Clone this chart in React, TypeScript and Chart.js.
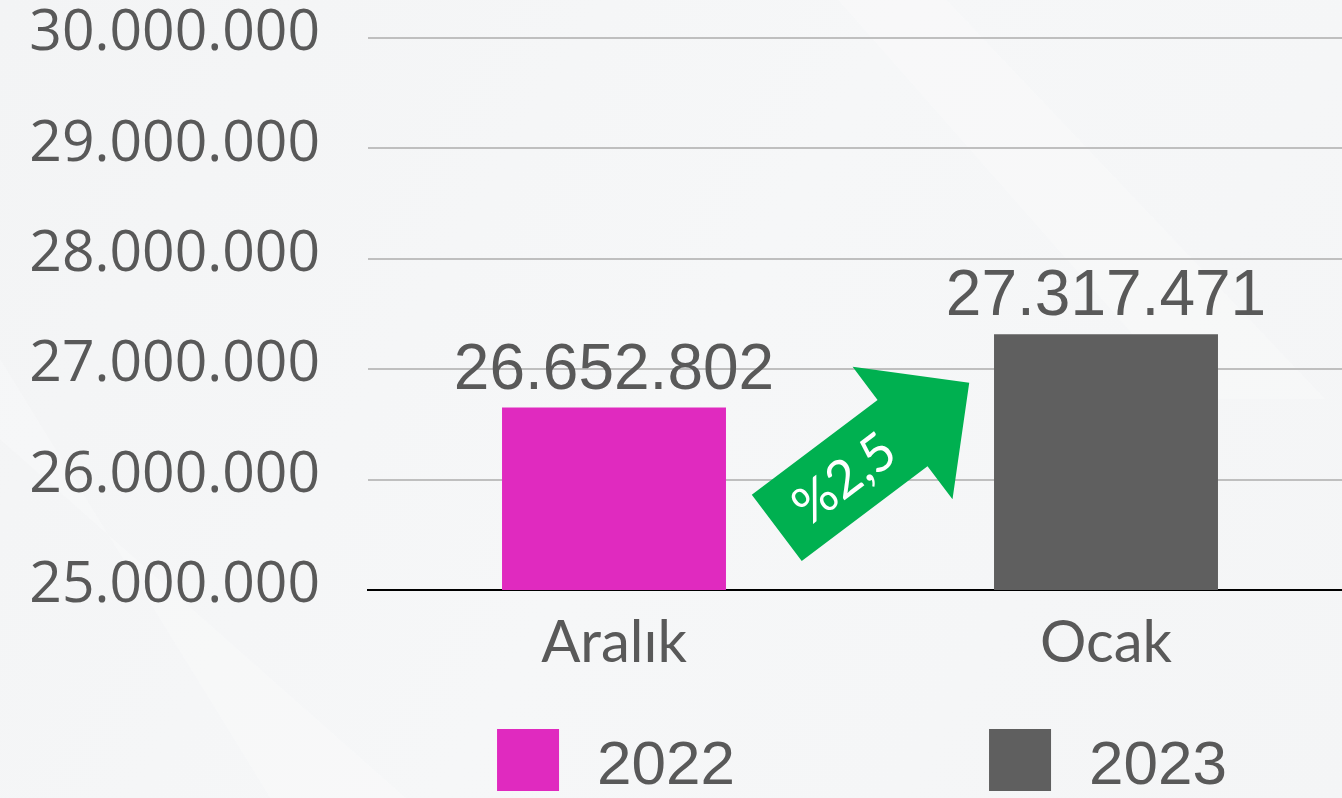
import React, { useEffect, useRef } from "react";
import { Chart, registerables } from "chart.js";

Chart.register(...registerables);

const categories = ["Aralık", "Ocak"];
const seriesLabels = ["2022", "2023"];
const values2022: (number | null)[] = [26652802, null];
const values2023: (number | null)[] = [null, 27317471];
const seriesColors = ["#E02ABF", "#5F5F5F"];
const yTickValues = [25000000, 26000000, 27000000, 28000000, 29000000, 30000000];
const changeLabel = "%2,5";

const fmt = (v: number) =>
  Math.round(v)
    .toString()
    .replace(/\B(?=(\d{3})+(?!\d))/g, ".");

const TEXT = "#595959";

const backgroundPlugin = {
  id: "bg",
  beforeDraw(chart: any) {
    const { ctx, width, height } = chart;
    ctx.save();
    const g = ctx.createLinearGradient(0, 0, width, height);
    g.addColorStop(0, "#F3F4F5");
    g.addColorStop(0.5, "#F6F7F8");
    g.addColorStop(1, "#F4F5F6");
    ctx.fillStyle = g;
    ctx.fillRect(0, 0, width, height);
    ctx.globalAlpha = 0.22;
    ctx.fillStyle = "#FFFFFF";
    ctx.beginPath();
    ctx.moveTo(width * 0.62, 0);
    ctx.lineTo(width * 0.7, 0);
    ctx.lineTo(width * 0.98, height * 0.5);
    ctx.lineTo(width * 0.88, height * 0.5);
    ctx.closePath();
    ctx.fill();
    ctx.beginPath();
    ctx.moveTo(0, height * 0.45);
    ctx.lineTo(0, height * 0.55);
    ctx.lineTo(width * 0.3, height);
    ctx.lineTo(width * 0.2, height);
    ctx.closePath();
    ctx.fill();
    ctx.restore();
  },
};

const dataLabelPlugin = {
  id: "dataLabels",
  afterDatasetsDraw(chart: any) {
    const { ctx } = chart;
    ctx.save();
    ctx.font = "64px 'Liberation Sans', Arial, sans-serif";
    ctx.fillStyle = TEXT;
    ctx.textAlign = "center";
    ctx.textBaseline = "alphabetic";
    chart.data.datasets.forEach((ds: any, di: number) => {
      const meta = chart.getDatasetMeta(di);
      meta.data.forEach((el: any, i: number) => {
        const v = ds.data[i];
        if (v == null) return;
        ctx.fillText(fmt(v), el.x, el.y - 19);
      });
    });
    ctx.restore();
  },
};

const arrowPlugin = {
  id: "changeArrow",
  afterDatasetsDraw(chart: any) {
    const { ctx } = chart;
    const xs = chart.scales.x;
    const ys = chart.scales.y;
    const midX = (xs.getPixelForValue(0) + xs.getPixelForValue(1)) / 2;
    const cx = midX + 13;
    const cy = ys.getPixelForValue(26220000);
    const L = 241;
    const shaftHalf = 41.5;
    const headHalf = 83;
    const headLen = 83.5;
    const half = L / 2;
    const shaftEnd = half - headLen;
    const angle = (-37 * Math.PI) / 180;
    ctx.save();
    ctx.translate(cx, cy);
    ctx.rotate(angle);
    ctx.fillStyle = "#00B050";
    ctx.beginPath();
    ctx.moveTo(-half, -shaftHalf);
    ctx.lineTo(shaftEnd, -shaftHalf);
    ctx.lineTo(shaftEnd, -headHalf);
    ctx.lineTo(half, 0);
    ctx.lineTo(shaftEnd, headHalf);
    ctx.lineTo(shaftEnd, shaftHalf);
    ctx.lineTo(-half, shaftHalf);
    ctx.closePath();
    ctx.fill();
    ctx.fillStyle = "#FFFFFF";
    ctx.font = "52px Lato, 'Open Sans', sans-serif";
    ctx.textAlign = "center";
    ctx.textBaseline = "middle";
    ctx.fillText(changeLabel, -37, 2);
    ctx.restore();
  },
};

const legendPlugin = {
  id: "customLegend",
  afterDraw(chart: any) {
    const { ctx, height } = chart;
    const xs = chart.scales.x;
    ctx.save();
    ctx.font = "62px 'Liberation Sans', Arial, sans-serif";
    ctx.textBaseline = "alphabetic";
    ctx.textAlign = "left";
    const box = 62;
    const gap = 38;
    seriesLabels.forEach((lab, i) => {
      const tw = ctx.measureText(lab).width;
      const w = box + gap + tw;
      const cx = xs.getPixelForValue(i) + 2;
      const x0 = cx - w / 2;
      ctx.fillStyle = seriesColors[i];
      ctx.fillRect(x0, height - 69, box, box);
      ctx.fillStyle = TEXT;
      ctx.fillText(lab, x0 + box + gap, height - 14);
    });
    ctx.restore();
  },
};

export default function App() {
  const ref = useRef<HTMLCanvasElement | null>(null);
  useEffect(() => {
    document.body.style.margin = "0";
    document.body.style.overflow = "hidden";
    if (!ref.current) return;
    const chart = new Chart(ref.current, {
      type: "bar",
      data: {
        labels: categories,
        datasets: [
          {
            label: seriesLabels[0],
            data: values2022,
            backgroundColor: seriesColors[0],
            skipNull: true,
          } as any,
          {
            label: seriesLabels[1],
            data: values2023,
            backgroundColor: seriesColors[1],
            skipNull: true,
          } as any,
        ],
      },
      options: {
        animation: false,
        responsive: false,
        maintainAspectRatio: false,
        datasets: {
          bar: {
            categoryPercentage: 0.8,
            barPercentage: 0.569,
          },
        },
        layout: { padding: { top: 38, left: 0, right: 0, bottom: 0 } },
        plugins: {
          legend: { display: false },
          tooltip: { enabled: false },
          title: { display: false },
        },
        scales: {
          x: {
            grid: { display: false, drawTicks: false },
            border: { display: true, color: "#000000", width: 2 },
            ticks: {
              color: TEXT,
              font: { family: "Lato, 'Open Sans', sans-serif", size: 58 },
              padding: 18,
            },
            afterFit(scale: any) {
              scale.height = 208;
              scale.paddingLeft = 0;
              scale.paddingRight = 0;
            },
          },
          y: {
            min: yTickValues[0],
            max: yTickValues[yTickValues.length - 1],
            grid: {
              drawTicks: false,
              color: (c: any) =>
                c.tick && c.tick.value === yTickValues[0] ? "rgba(0,0,0,0)" : "#BFBFBF",
              lineWidth: 2,
            },
            border: { display: false },
            ticks: {
              stepSize: yTickValues[1] - yTickValues[0],
              color: TEXT,
              font: { family: "'Open Sans', sans-serif", size: 57 },
              padding: 48,
              labelOffset: -4,
              callback: (v: any) => fmt(Number(v)),
            },
            afterFit(scale: any) {
              scale.width = 368;
              scale.paddingTop = 0;
              scale.paddingBottom = 0;
            },
          },
        },
      },
      plugins: [backgroundPlugin, arrowPlugin, dataLabelPlugin, legendPlugin],
    });
    return () => chart.destroy();
  }, []);
  return (
    <div style={{ width: 1342, height: 798, overflow: "hidden" }}>
      <canvas ref={ref} width={1352} height={798} style={{ display: "block" }} />
    </div>
  );
}
